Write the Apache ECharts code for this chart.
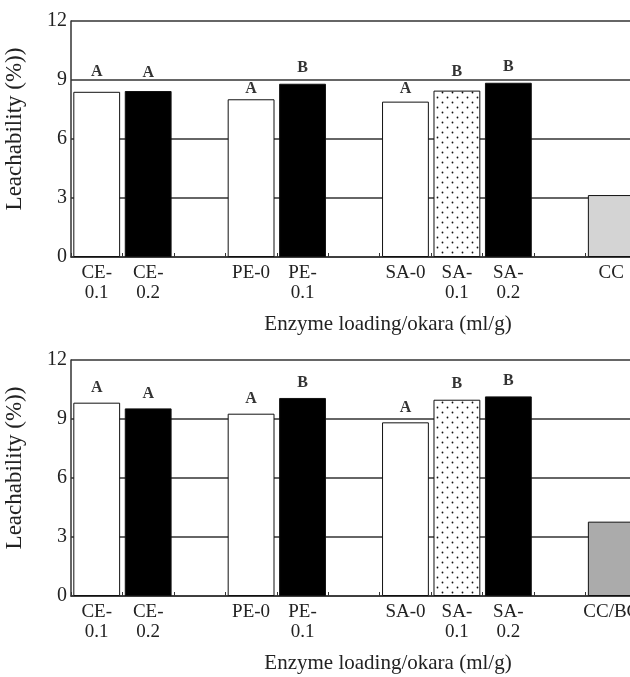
<!DOCTYPE html>
<html>
<head>
<meta charset="utf-8">
<script src="https://cdn.jsdelivr.net/npm/echarts@6/dist/echarts.min.js"></script>
<style>
  html, body { margin: 0; padding: 0; background: #fff; }
  #chart { width: 630px; height: 677px; }
</style>
</head>
<body>
<div id="chart"></div>
<script>
// categories (blank slots are the gaps between groups)
const categoriesTop = ['CE-\n0.1', 'CE-\n0.2', '', 'PE-0', 'PE-\n0.1', '', 'SA-0', 'SA-\n0.1', 'SA-\n0.2', '', 'CC'];
const categoriesBottom = ['CE-\n0.1', 'CE-\n0.2', '', 'PE-0', 'PE-\n0.1', '', 'SA-0', 'SA-\n0.1', 'SA-\n0.2', '', 'CC/BC'];

// leachability (%)
const valuesTop = [8.40, 8.44, null, 8.02, 8.81, null, 7.90, 8.46, 8.86, null, 3.15];
const valuesBottom = [9.83, 9.54, null, 9.27, 10.07, null, 8.83, 9.98, 10.15, null, 3.78];

// significance letters and the level they sit at
const letters = ['A', 'A', '', 'A', 'B', '', 'A', 'B', 'B', '', ''];
const letterLevelTop = [9.42, 9.35, null, 8.54, 9.61, null, 8.54, 9.40, 9.66, null, null];
const letterLevelBottom = [10.56, 10.30, null, 10.00, 10.86, null, 9.59, 10.78, 10.93, null, null];

// fill kind per slot
const fills = ['white', 'black', '', 'white', 'black', '', 'white', 'dots', 'black', '', 'gray'];

const yTicks = [0, 3, 6, 9, 12];

const FONT = '"Liberation Serif", "DejaVu Serif", serif';

// dotted pattern for SA-0.1
function dotPattern() {
  let c = document.createElement('canvas');
  c.width = 10; c.height = 10;
  let ctx = c.getContext('2d');
  ctx.fillStyle = '#fff';
  ctx.fillRect(0, 0, 10, 10);
  ctx.fillStyle = '#111';
  ctx.beginPath(); ctx.arc(2.5, 2.5, 0.9, 0, Math.PI * 2); ctx.fill();
  ctx.beginPath(); ctx.arc(7.5, 7.5, 0.9, 0, Math.PI * 2); ctx.fill();
  return c;
}
const pattern = dotPattern();

function styleFor(kind, grayColor) {
  let color;
  switch (kind) {
    case 'black': color = '#000'; break;
    case 'dots': color = { image: pattern, repeat: 'repeat' }; break;
    case 'gray': color = grayColor; break;
    default: color = '#fff';
  }
  return { color: color, borderColor: '#111', borderWidth: 1 };
}

function barData(values, grayColor) {
  return values.map((v, i) => v === null ? null : { value: v, itemStyle: styleFor(fills[i], grayColor) });
}

function letterData(levels) {
  return levels.map((v, i) => v === null ? null : { value: v, label: { formatter: letters[i] } });
}

function makeXAxis(idx, cats) {
  return {
    type: 'category',
    gridIndex: idx,
    data: cats,
    name: 'Enzyme loading/okara (ml/g)',
    nameLocation: 'middle',
    nameGap: 57,
    // the plot runs on past the right edge, so the title sits right of centre
    nameTextStyle: { fontFamily: FONT, fontSize: 21, color: '#222', padding: [0, 0, 0, 68] },
    axisLine: { lineStyle: { color: '#333', width: 1.5 } },
    axisTick: { show: true, inside: true, length: 4, alignWithLabel: false, lineStyle: { color: '#333' } },
    axisLabel: { interval: 0, fontFamily: FONT, fontSize: 19, color: '#222', lineHeight: 20, margin: 6 },
    splitLine: { show: false }
  };
}

function makeYAxis(idx) {
  return {
    type: 'value',
    gridIndex: idx,
    min: 0,
    max: 12,
    interval: 3,
    name: 'Leachability (%))',
    nameLocation: 'middle',
    nameGap: 45,
    nameTextStyle: { fontFamily: FONT, fontSize: 23, color: '#222', padding: [0, 0, 0, 20] },
    axisLine: { show: true, lineStyle: { color: '#333', width: 1.5 } },
    axisTick: { show: false },
    axisLabel: {
      fontFamily: FONT, fontSize: 20, color: '#222', margin: 4,
      formatter: v => yTicks.includes(v) ? String(v) : ''
    },
    splitLine: { show: true, lineStyle: { color: '#333', width: 1.5 } }
  };
}

function letterSeries(idx, levels) {
  return {
    type: 'scatter',
    xAxisIndex: idx,
    yAxisIndex: idx,
    data: letterData(levels),
    symbolSize: 1,
    itemStyle: { color: 'rgba(0,0,0,0)' },
    label: {
      show: true,
      position: 'inside',
      fontFamily: FONT,
      fontSize: 16,
      fontWeight: 'bold',
      color: '#000'
    },
    z: 5
  };
}

let chart = echarts.init(document.getElementById('chart'), null, { renderer: 'canvas' });
chart.setOption({
  animation: false,
  backgroundColor: '#fff',
  grid: [
    { left: 71, right: -7, top: 21, height: 236, containLabel: false, outerBoundsMode: 'none' },
    { left: 71, right: -7, top: 360, height: 236, containLabel: false, outerBoundsMode: 'none' }
  ],
  xAxis: [makeXAxis(0, categoriesTop), makeXAxis(1, categoriesBottom)],
  yAxis: [makeYAxis(0), makeYAxis(1)],
  series: [
    {
      type: 'bar',
      xAxisIndex: 0,
      yAxisIndex: 0,
      data: barData(valuesTop, '#d4d4d4'),
      barCategoryGap: '9%'
    },
    {
      type: 'bar',
      xAxisIndex: 1,
      yAxisIndex: 1,
      data: barData(valuesBottom, '#ababab'),
      barCategoryGap: '9%'
    },
    letterSeries(0, letterLevelTop),
    letterSeries(1, letterLevelBottom)
  ]
});
</script>
</body>
</html>
